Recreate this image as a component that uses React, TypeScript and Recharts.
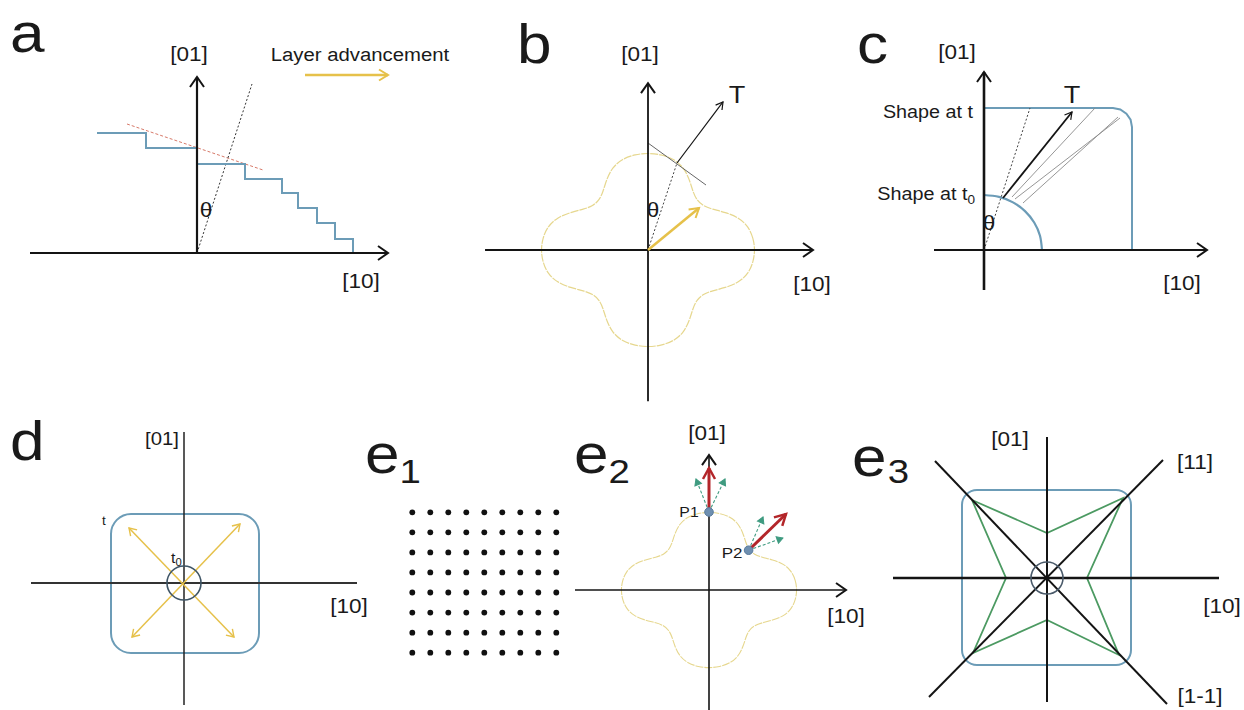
import React from 'react';
import { ComposedChart, Line, XAxis, YAxis, Scatter, ReferenceArea, ReferenceDot, Rectangle } from 'recharts';

// ---------------- DATA (local panel units, y up) ----------------
// Panel a (1 unit = 1 px, origin at axes crossing)
const aAxisV = [[0, 0], [0, 176]];
const aAxisH = [[-167, 0], [191, 0]];
const aSteps = [[-100, 120], [-51, 120], [-51, 105], [0, 105], [0, 89], [48, 89], [48, 74], [85, 74], [85, 60], [101, 60], [101, 45], [120, 45], [120, 30], [138, 30], [138, 14], [156, 14], [156, 0]];
const aTangent = [[-70, 129], [66, 83]];
const aNormal = [[0, 0], [55, 169]];
const aAdvance = [[108, 178], [191, 178]];

// Four-lobed growth shape (normalised: radius 1 on the axes)
const lobeOutline = [
  [1, 0], [0.985, 0.12], [0.94, 0.24], [0.85, 0.335], [0.72, 0.39], [0.6, 0.42], [0.515, 0.455],
  [0.455, 0.515], [0.42, 0.6], [0.39, 0.72], [0.335, 0.85], [0.24, 0.94], [0.12, 0.985],
  [0, 1], [-0.12, 0.985], [-0.24, 0.94], [-0.335, 0.85], [-0.39, 0.72], [-0.42, 0.6], [-0.455, 0.515],
  [-0.515, 0.455], [-0.6, 0.42], [-0.72, 0.39], [-0.85, 0.335], [-0.94, 0.24], [-0.985, 0.12],
  [-1, 0], [-0.985, -0.12], [-0.94, -0.24], [-0.85, -0.335], [-0.72, -0.39], [-0.6, -0.42], [-0.515, -0.455],
  [-0.455, -0.515], [-0.42, -0.6], [-0.39, -0.72], [-0.335, -0.85], [-0.24, -0.94], [-0.12, -0.985],
  [0, -1], [0.12, -0.985], [0.24, -0.94], [0.335, -0.85], [0.39, -0.72], [0.42, -0.6], [0.455, -0.515],
  [0.515, -0.455], [0.6, -0.42], [0.72, -0.39], [0.85, -0.335], [0.94, -0.24], [0.985, -0.12],
];

// Panel b (normalised units)
const bAxisV = [[0, -1.56], [0, 1.72]];
const bAxisH = [[-1.523, 0], [1.542, 0]];
const bGrowth = [[0, 0], [0.477, 0.433]];
const bTangent = [[0, 1.103], [0.542, 0.67]];
const bT = [[0.271, 0.897], [0.701, 1.526]];
const bNormal = [[0, 0], [0.271, 0.897]];

// Panel c (1 unit = 1 px)
const cAxisV = [[0, -40], [0, 178]];
const cAxisH = [[-50, 0], [223, 0]];
const cShapeT = [[0, 142], [129, 142], [136.3, 140.6], [142.4, 136.4], [146.6, 130.3], [148, 123], [148, 0]];
const cShapeT0 = [[0, 55], [15, 53.1], [29, 47.6], [41, 38.9], [50.2, 27.5], [56, 14.2], [58, 0]];
const cNormal = [[0, 0], [46, 142]];
const cT = [[19, 52], [88, 138]];
const cRay1 = [[28, 53], [111, 142]];
const cRay2 = [[31, 51], [136, 132]];
const cRay3 = [[39, 47], [134, 133]];

// Panel d (1 unit = 1 px)
const dAxisV = [[0, 151], [0, -122]];
const dAxisH = [[-153, 0], [173, 0]];
const dShapeT = { x1: -73, x2: 75, y1: -70, y2: 69 };
const dArrow1 = [[-55, 55], [50, -54]];
const dArrow2 = [[-52, -54], [56, 59]];

// Panel e1 (lattice indices)
const e1Cols = [0, 1, 2, 3, 4, 5, 6, 7, 8];
const e1Rows = [0, 1, 2, 3, 4, 5, 6, 7];

// Panel e2 (normalised units)
const e2AxisV = [[0, -1.54], [0, 1.73]];
const e2AxisH = [[-1.523, 0], [1.557, 0]];
const e2Points = [[0, 1.0], [0.45, 0.51]];
const e2Red1 = [[0, 1.0], [0, 1.564]];
const e2Red2 = [[0.45, 0.51], [0.875, 0.974]];
const e2Green1 = [[0, 1.0], [-0.148, 1.423]];
const e2Green2 = [[0, 1.0], [0.182, 1.423]];
const e2Green3 = [[0.45, 0.51], [0.614, 0.936]];
const e2Green4 = [[0.45, 0.51], [0.84, 0.667]];

// Panel e3 (1 unit = 1 px)
const e3AxisV = [[0, 141], [0, -124]];
const e3AxisH = [[-154, 0], [172, 0]];
const e3Diag11 = [[-118, -119], [116, 118]];
const e3Diag1m1 = [[-112, 117], [120, -126]];
const e3ShapeT = { x1: -85, x2: 84, y1: -87, y2: 88 };
const e3Star = [[-75, 78], [0, 45], [76, 80], [40, 0], [72, -77], [0, -42], [-74, -75], [-41, 0], [-75, 78]];

// ---------------- STYLE / LAYOUT ----------------
const BLUE = '#6c9cb7';
const YELLOW = '#e6c14a';
const LOBE = '#e6d78e';
const INK = '#141414';
const RED = '#b3262a';
const GREEN = '#3f9b80';
const STAR = '#4c9a62';
const FONT = "'Liberation Sans', Arial, Helvetica, sans-serif";
const TEXT_SCALE = 1.13;

const pts = (a: number[][]) => a.map(([x, y]) => ({ x, y }));

type SegOpts = { type?: any; dash?: string; end?: string; start?: string; cap?: string };
let segKey = 0;
const seg = (data: number[][], stroke: string, width: number, o: SegOpts = {}) => (
  <Line
    key={`s${segKey++}`}
    data={pts(data)}
    dataKey="y"
    type={o.type ?? 'linear'}
    stroke={stroke}
    strokeWidth={width}
    strokeDasharray={o.dash}
    strokeLinejoin="miter"
    strokeLinecap={(o.cap as any) ?? 'butt'}
    dot={false}
    activeDot={false}
    legendType="none"
    isAnimationActive={false}
    markerEnd={o.end ? `url(#${o.end})` : undefined}
    markerStart={o.start ? `url(#${o.start})` : undefined}
  />
);

type Box = { left: number; top: number; width: number; height: number };
function Panel({ box, ox, oy, sx, sy, children }: { box: Box; ox: number; oy: number; sx: number; sy: number; children: React.ReactNode }) {
  const xDomain = [(box.left - ox) / sx, (box.left + box.width - ox) / sx];
  const yDomain = [(oy - box.top - box.height) / sy, (oy - box.top) / sy];
  return (
    <div style={{ position: 'absolute', left: box.left, top: box.top, width: box.width, height: box.height }}>
      <ComposedChart width={box.width} height={box.height} margin={{ top: 0, right: 0, bottom: 0, left: 0 }}>
        <XAxis type="number" dataKey="x" domain={xDomain} hide allowDataOverflow />
        <YAxis type="number" domain={yDomain} hide allowDataOverflow />
        {children}
      </ComposedChart>
    </div>
  );
}

function chevron(id: string, color: string, len: number, half: number, sw: number, filled = false) {
  const pad = sw * 2 + 2;
  return (
    <marker
      key={id}
      id={id}
      viewBox={`${-len - pad} ${-half - pad} ${len + 2 * pad} ${2 * half + 2 * pad}`}
      refX={0}
      refY={0}
      markerWidth={len + 2 * pad}
      markerHeight={2 * half + 2 * pad}
      markerUnits="userSpaceOnUse"
      orient="auto-start-reverse"
      overflow="visible"
    >
      <path
        d={`M${-len},${-half} L0,0 L${-len},${half}${filled ? ' Z' : ''}`}
        fill={filled ? color : 'none'}
        stroke={color}
        strokeWidth={sw}
        strokeLinejoin="miter"
      />
    </marker>
  );
}

function Txt({ x, y, size, anchor = 'middle', children }: { x: number; y: number; size: number; anchor?: string; children: React.ReactNode }) {
  return (
    <text transform={`translate(${x},${y}) scale(${TEXT_SCALE},1)`} fontSize={size} textAnchor={anchor as any} fontFamily={FONT} fill="#1a1a1a">
      {children}
    </text>
  );
}

const blueRect = (radius: number) => (p: any) => <Rectangle {...p} radius={radius} fill="none" stroke={BLUE} strokeWidth={2} />;

export default function App() {
  const grid = e1Rows.flatMap((r) => e1Cols.map((c) => ({ x: c, y: r })));
  return (
    <div style={{ position: 'absolute', left: 0, top: 0, width: 1244, height: 710, background: '#fff', overflow: 'hidden' }}>
      <svg width={0} height={0} style={{ position: 'absolute' }}>
        <defs>
          {chevron('ahAxis', INK, 10, 7, 2)}
          {chevron('ahSmall', INK, 7, 4, 1.2)}
          {chevron('ahYellow', YELLOW, 9, 5.5, 2)}
          {chevron('ahYellowS', YELLOW, 7, 4.5, 1.4)}
          {chevron('ahRed', RED, 11, 6, 2.5)}
          {chevron('ahGreen', GREEN, 6, 3.5, 1, true)}
        </defs>
      </svg>

      {/* a */}
      <Panel box={{ left: 0, top: 60, width: 460, height: 250 }} ox={197} oy={253} sx={1} sy={1}>
        {seg(aTangent, '#d77a6a', 1, { dash: '3 2' })}
        {seg(aNormal, '#333', 1, { dash: '2 2' })}
        {seg(aSteps, BLUE, 2)}
        {seg(aAxisV, INK, 2.2, { end: 'ahAxis' })}
        {seg(aAxisH, INK, 2.2, { end: 'ahAxis' })}
        {seg(aAdvance, YELLOW, 2.5, { end: 'ahYellow' })}
      </Panel>

      {/* b */}
      <Panel box={{ left: 470, top: 70, width: 380, height: 340 }} ox={648} oy={250} sx={107} sy={97}>
        {seg(lobeOutline, LOBE, 1.2, { type: 'basisClosed', dash: '8 1' })}
        {seg(bNormal, '#444', 1, { dash: '2 2' })}
        {seg(bTangent, '#555', 0.9)}
        {seg(bAxisV, INK, 1.8, { end: 'ahAxis' })}
        {seg(bAxisH, INK, 1.8, { end: 'ahAxis' })}
        {seg(bT, INK, 1.2, { end: 'ahSmall' })}
        {seg(bGrowth, YELLOW, 2.5, { end: 'ahYellow' })}
      </Panel>

      {/* c */}
      <Panel box={{ left: 860, top: 60, width: 384, height: 240 }} ox={984} oy={250} sx={1} sy={1}>
        {seg(cShapeT, BLUE, 2)}
        {seg(cShapeT0, BLUE, 2.2, { type: 'natural' })}
        {seg(cNormal, '#444', 1, { dash: '2 2' })}
        {seg(cRay1, '#8a8a8a', 0.9)}
        {seg(cRay2, '#8a8a8a', 0.9)}
        {seg(cRay3, '#8a8a8a', 0.9)}
        {seg(cT, INK, 1.8, { end: 'ahSmall' })}
        {seg(cAxisV, INK, 2.6, { end: 'ahAxis' })}
        {seg(cAxisH, INK, 2, { end: 'ahAxis' })}
      </Panel>

      {/* d */}
      <Panel box={{ left: 0, top: 420, width: 380, height: 290 }} ox={184} oy={583} sx={1} sy={1}>
        <ReferenceArea x1={dShapeT.x1} x2={dShapeT.x2} y1={dShapeT.y1} y2={dShapeT.y2} shape={blueRect(20)} />
        {seg(dAxisV, '#222', 1.5)}
        {seg(dAxisH, '#333', 1.8)}
        {seg(dArrow1, YELLOW, 1.5, { end: 'ahYellowS', start: 'ahYellowS' })}
        {seg(dArrow2, YELLOW, 1.5, { end: 'ahYellowS', start: 'ahYellowS' })}
        <ReferenceDot x={0} y={0} r={17} fill="none" stroke="#3f5566" strokeWidth={1.6} />
      </Panel>

      {/* e1 */}
      <Panel box={{ left: 395, top: 495, width: 180, height: 175 }} ox={412.3} oy={652.7} sx={18} sy={20.06}>
        <Scatter data={grid} dataKey="y" isAnimationActive={false} legendType="none"
          shape={(p: any) => <circle cx={p.cx} cy={p.cy} r={2.9} fill="#111" />} />
      </Panel>

      {/* e2 */}
      <Panel box={{ left: 570, top: 420, width: 310, height: 290 }} ox={709} oy={590} sx={88} sy={78}>
        {seg(lobeOutline, LOBE, 1.1, { type: 'basisClosed', dash: '8 1' })}
        {seg(e2AxisV, INK, 1.6, { end: 'ahAxis' })}
        {seg(e2AxisH, INK, 1.6, { end: 'ahAxis' })}
        {seg(e2Green1, GREEN, 1.1, { dash: '3 2', end: 'ahGreen' })}
        {seg(e2Green2, GREEN, 1.1, { dash: '3 2', end: 'ahGreen' })}
        {seg(e2Green3, GREEN, 1.1, { dash: '3 2', end: 'ahGreen' })}
        {seg(e2Green4, GREEN, 1.1, { dash: '3 2', end: 'ahGreen' })}
        {seg(e2Red1, RED, 3, { end: 'ahRed' })}
        {seg(e2Red2, RED, 3, { end: 'ahRed' })}
        <Scatter data={pts(e2Points)} dataKey="y" isAnimationActive={false} legendType="none"
          shape={(p: any) => <circle cx={p.cx} cy={p.cy} r={4.3} fill="#6e8fb0" stroke="#587a9c" strokeWidth={1} />} />
      </Panel>

      {/* e3 */}
      <Panel box={{ left: 880, top: 420, width: 364, height: 290 }} ox={1047} oy={578} sx={1} sy={1}>
        <ReferenceArea x1={e3ShapeT.x1} x2={e3ShapeT.x2} y1={e3ShapeT.y1} y2={e3ShapeT.y2} shape={blueRect(15)} />
        {seg(e3Star, STAR, 1.8)}
        {seg(e3AxisV, INK, 2)}
        {seg(e3AxisH, INK, 2.4)}
        {seg(e3Diag11, INK, 2)}
        {seg(e3Diag1m1, INK, 2)}
        <ReferenceDot x={0} y={0} r={16} fill="none" stroke="#4a5a6a" strokeWidth={1.6} />
      </Panel>

      {/* text overlay */}
      <svg width={1244} height={710} style={{ position: 'absolute', left: 0, top: 0, pointerEvents: 'none' }}>
        <Txt x={10} y={52} size={55} anchor="start">a</Txt>
        <Txt x={517} y={63} size={55} anchor="start">b</Txt>
        <Txt x={857} y={63} size={55} anchor="start">c</Txt>
        <Txt x={10} y={460} size={55} anchor="start">d</Txt>
        <Txt x={365} y={473} size={55} anchor="start">e<tspan fontSize={34} dy={10} dx={0}>1</tspan></Txt>
        <Txt x={574} y={473} size={55} anchor="start">e<tspan fontSize={34} dy={10} dx={0}>2</tspan></Txt>
        <Txt x={852} y={476} size={55} anchor="start">e<tspan fontSize={34} dy={7} dx={1}>3</tspan></Txt>

        <Txt x={189} y={61} size={20}>[01]</Txt>
        <Txt x={360} y={61} size={18}>Layer advancement</Txt>
        <Txt x={206} y={217} size={20}>θ</Txt>
        <Txt x={361} y={288} size={20}>[10]</Txt>

        <Txt x={640} y={61} size={20}>[01]</Txt>
        <Txt x={737} y={103} size={24}>T</Txt>
        <Txt x={653} y={217} size={20}>θ</Txt>
        <Txt x={812} y={291} size={20}>[10]</Txt>

        <Txt x={957} y={59} size={20}>[01]</Txt>
        <Txt x={973} y={118} size={17.5} anchor="end">Shape at t</Txt>
        <Txt x={975} y={200} size={17.5} anchor="end">Shape at t<tspan fontSize={12} dy={4}>0</tspan></Txt>
        <Txt x={1072} y={103} size={24}>T</Txt>
        <Txt x={989} y={230} size={20}>θ</Txt>
        <Txt x={1182} y={290} size={20}>[10]</Txt>

        <Txt x={162} y={445} size={18}>[01]</Txt>
        <Txt x={349} y={613} size={20}>[10]</Txt>
        <Txt x={104} y={525} size={12}>t</Txt>
        <Txt x={171} y={563} size={14} anchor="start">t<tspan fontSize={10} dy={3}>0</tspan></Txt>

        <Txt x={707} y={440} size={20}>[01]</Txt>
        <Txt x={846} y={623} size={20}>[10]</Txt>
        <Txt x={689} y={517} size={14}>P1</Txt>
        <Txt x={732} y={558} size={15}>P2</Txt>

        <Txt x={1010} y={446} size={20}>[01]</Txt>
        <Txt x={1195} y={469} size={20}>[11]</Txt>
        <Txt x={1222} y={613} size={20}>[10]</Txt>
        <Txt x={1200} y={703} size={20}>[1-1]</Txt>
      </svg>
    </div>
  );
}
